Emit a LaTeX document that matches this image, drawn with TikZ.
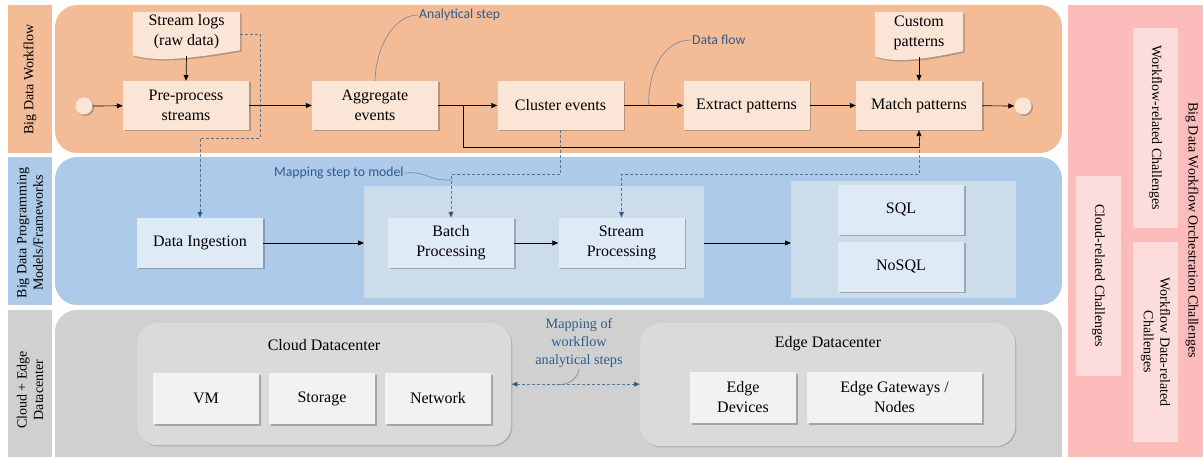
\documentclass[tikz,border=0pt]{standalone}
\usepackage{fontspec}
\setmainfont{Liberation Serif}
\newfontfamily\calibfam{Carlito}
\usetikzlibrary{arrows.meta,shadows,calc}
\definecolor{orP}{HTML}{F4BC96}
\definecolor{orN}{HTML}{FBE5D6}
\definecolor{blP}{HTML}{ADCBE9}
\definecolor{blG}{HTML}{CCDCEB}
\definecolor{blN}{HTML}{DEEAF6}
\definecolor{grP}{HTML}{D0D0D0}
\definecolor{grI}{HTML}{DADADA}
\definecolor{grN}{HTML}{F2F2F2}
\definecolor{pkP}{HTML}{FCBCBC}
\definecolor{pkI}{HTML}{FDDCDC}
\definecolor{mapC}{HTML}{2E5C8A}
\definecolor{callC}{HTML}{71869C}
\newcommand\nodefnt{\fontsize{16}{20}\selectfont}
\newcommand\sidefnt{\fontsize{14}{16.5}\selectfont}
\newcommand\callfnt{\calibfam\fontsize{13.7}{16}\selectfont}
\newcommand\mapfnt{\fontsize{14.2}{18}\selectfont}
\begin{document}
\begin{tikzpicture}[x=1pt,y=-1pt,
  myshadow/.style={drop shadow={shadow xshift=1.5pt,shadow yshift=-1.5pt,opacity=0.45,fill=black!60}},
  softshadow/.style={drop shadow={shadow xshift=1.2pt,shadow yshift=-1.2pt,opacity=0.35,fill=black!55}},
  wfbox/.style={fill=orN,minimum width=126pt,minimum height=49pt,inner sep=2pt,align=center,font=\nodefnt,myshadow},
  blbox/.style={wfbox,fill=blN,minimum height=50pt},
  grbox/.style={wfbox,fill=grN,minimum width=106pt,minimum height=51pt},
  pkbox/.style={fill=pkI,minimum width=200pt,minimum height=45pt,inner sep=1pt,align=center,font=\sidefnt,rotate=-90},
  sidelab/.style={font=\sidefnt,align=center,inner sep=1pt},
  flow/.style={draw=black,line width=0.7pt,-{Triangle[length=6pt,width=5pt]}},
  mapline/.style={draw=mapC,draw opacity=0.75,line width=0.8pt,dash pattern=on 3pt off 2pt,-{Triangle[length=6pt,width=5pt]}},
  callout/.style={draw=callC,line width=0.6pt},
  calllab/.style={font=\callfnt,text=mapC,inner sep=1pt}
]
\useasboundingbox (0,0) rectangle (1203,457);
\clip (0,0) rectangle (1203,457);

% ---------- panels ----------
\fill[orP] (8,5) rectangle (52,153);
\fill[blP] (8,157) rectangle (52,305);
\fill[grP] (8,310) rectangle (52,457);
\fill[orP,rounded corners=22pt] (55,5) rectangle (1062,153);
\fill[blP,rounded corners=22pt] (55,157) rectangle (1062,305);
\fill[grP,rounded corners=22pt] (55,310) rectangle (1062,490);
\fill[pkP] (1068,5) rectangle (1203,457);

\node[sidelab,rotate=90] (lw) at (30,79.5) {Big Data Workflow};
\node[sidelab,rotate=90] (lp) at (30,233) {Big Data Programming\\Models/Frameworks};
\node[sidelab,rotate=90] (lc) at (30,390) {Cloud + Edge\\Datacenter};

% ---------- workflow row ----------
\node[circle,fill=orN,minimum size=17pt,inner sep=0,myshadow] (st) at (84,106) {};
\node[wfbox] (pre) at (186,105.5) {Pre-process\\streams};
\node[wfbox] (agg) at (375,105.5) {Aggregate\\events};
\node[wfbox] (clu) at (560.5,105.5) {Cluster events};
\node[wfbox] (ext) at (746.5,105.5) {Extract patterns};
\node[wfbox] (mat) at (919,105.5) {Match patterns};
\node[circle,fill=orN,minimum size=17pt,inner sep=0,myshadow] (en) at (1023,106) {};

% documents
\node[minimum width=107pt,minimum height=44pt,inner sep=0] (logs) at (186.5,34) {};
\fill[orN,myshadow] (logs.north west) -- (logs.north east) -- ([yshift=6pt]logs.south east)
  .. controls +(-30pt,-5pt) and +(28pt,-9pt) .. ([yshift=1pt]logs.south west) -- cycle;
\node[font=\nodefnt,align=center,inner sep=0] (logst) at (186.5,32) {Stream logs\\(raw data)};

\node[minimum width=88pt,minimum height=45pt,inner sep=0] (cust) at (919,34.5) {};
\fill[orN,myshadow] (cust.north west) -- (cust.north east) -- ([yshift=6pt]cust.south east)
  .. controls +(-25pt,-5pt) and +(23pt,-9pt) .. ([yshift=1pt]cust.south west) -- cycle;
\node[font=\nodefnt,align=center,inner sep=0] (custt) at (919,33) {Custom\\patterns};

\draw[flow] (st) -- (pre);
\draw[flow] (pre) -- (agg);
\draw[flow] (agg) -- (clu);
\draw[flow] (clu) -- (ext);
\draw[flow] (ext) -- (mat);
\draw[flow] (mat) -- (en);
\draw[flow] (logs.south) -- (pre.north);
\draw[flow] (cust.south) -- (mat.north);
\coordinate (brp) at ($(agg.east)!0.42!(clu.west)$);
\draw[flow] (brp) |- ([yshift=-17pt]mat.south) -- (mat.south);

% callouts
\node[calllab,anchor=west] (anl) at (418,15) {Analytical step};
\draw[callout] (anl.west) .. controls (395,15) and (376,45) .. (agg.north);
\node[calllab,anchor=west] (dfl) at (691,40) {Data flow};
\coordinate (dfp) at ($(clu.east)!0.42!(ext.west)$);
\draw[callout] (dfl.west) .. controls (664,40) and (648,70) .. (dfp);

% ---------- programming models row ----------
\node[fill=blG,inner sep=0,minimum width=340pt,minimum height=112pt,anchor=north west] (procg) at (364,186) {};
\node[fill=blG,inner sep=0,minimum width=225pt,minimum height=117pt,anchor=north west] (storg) at (791,181) {};
\node[blbox] (ing) at (200,243) {Data Ingestion};
\node[blbox] (bat) at (451,243) {Batch\\Processing};
\node[blbox] (str) at (621.5,243) {Stream\\Processing};
\node[blbox] (sql) at (901,210) {SQL};
\node[blbox] (nosql) at (901,267) {NoSQL};

\draw[flow] (ing.east) -- (procg.west |- ing.east);
\draw[flow] (bat) -- (str);
\draw[flow] (procg.east |- str.east) -- (storg.west |- str.east);

\draw[mapline] (logs.east) -- ++(20,0) -- ++(0,104) -| (ing.north);
\draw[mapline] (clu.south) -- ++(0,44) -| (bat.north);
\draw[mapline] (mat.south) -- ++(0,44) -| (str.north);

\node[calllab,anchor=west] (msm) at (273,173) {Mapping step to model};
\coordinate (msp) at (451,180);
\draw[callout] (msm.east) .. controls (428,171) and (428,181) .. (msp);

% ---------- datacenter row ----------
\node[fill=grI,rounded corners=20pt,inner sep=0,minimum width=374pt,minimum height=122pt,anchor=north west,softshadow] (cloudp) at (137,323) {};
\node[fill=grI,rounded corners=20pt,inner sep=0,minimum width=375pt,minimum height=123pt,anchor=north west,softshadow] (edgep) at (640,323) {};
\node[font=\nodefnt,inner sep=0] (cloudt) at (324,345) {Cloud Datacenter};
\node[font=\nodefnt,inner sep=0] (edget) at (828,344) {Edge Datacenter};
\node[grbox] (vm) at (206,398.5) {VM};
\node[grbox] (stor) at (322,398.5) {Storage};
\node[grbox] (net) at (438,398.5) {Network};
\node[grbox] (edev) at (743,397.5) {Edge\\Devices};
\node[grbox,minimum width=175pt] (egw) at (894.5,397.5) {Edge Gateways /\\Nodes};

\draw[mapline,{Triangle[length=6pt,width=5pt]}-{Triangle[length=6pt,width=5pt]}] (cloudp.east) -- (cloudp.east -| edgep.west);
\node[font=\mapfnt,text=mapC,align=center,inner sep=1pt] (mapt) at (579,343) {Mapping of\\workflow\\analytical steps};
\coordinate (mtp) at (556,385);
\draw[callout] (mapt.south) .. controls (578,378) and (570,385) .. (mtp);

% ---------- challenges ----------
\node[pkbox] (wrc) at (1155.5,128) {Workflow-related Challenges};
\node[pkbox] (wdc) at (1155.5,342) {Workflow Data-related\\Challenges};
\node[pkbox] (crc) at (1098.5,276) {Cloud-related Challenges};
\node[sidelab,rotate=-90] (bdoc) at (1192,230) {Big Data Workflow Orchestration Challenges};
\end{tikzpicture}
\end{document}
